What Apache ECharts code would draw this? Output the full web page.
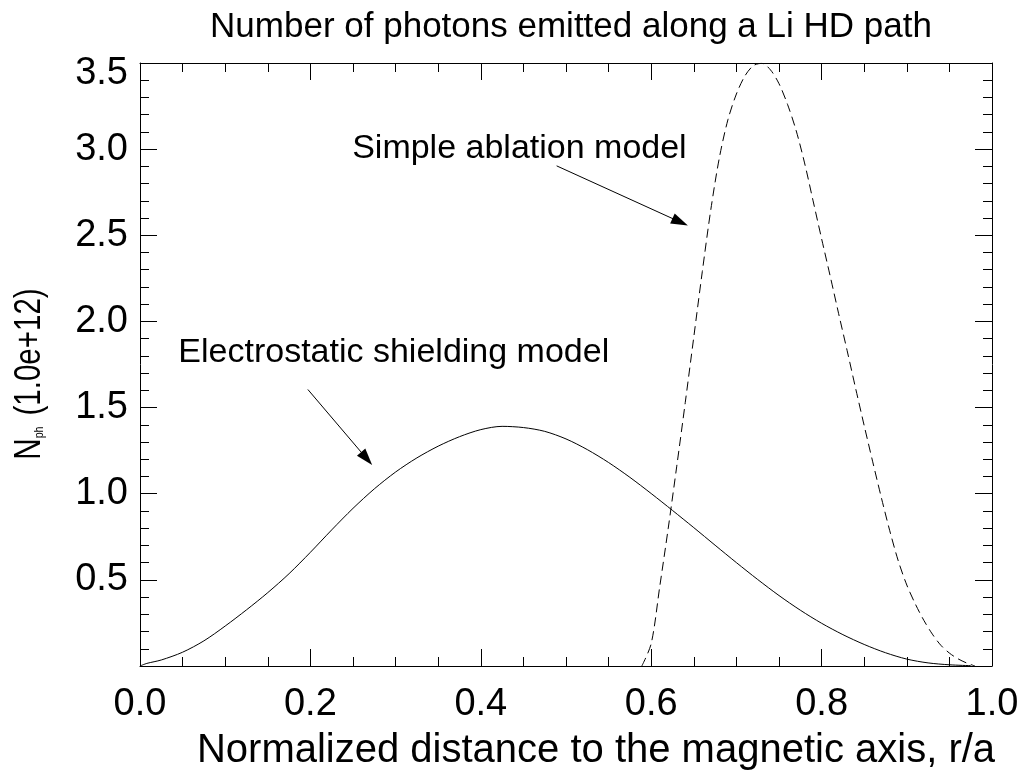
<!DOCTYPE html>
<html>
<head>
<meta charset="utf-8">
<script src="https://cdn.jsdelivr.net/npm/echarts@6/dist/echarts.min.js"></script>
<style>
  html, body { margin: 0; padding: 0; background: #fff; }
  #main { width: 1027px; height: 773px; }
</style>
</head>
<body>
<div id="main"></div>
<script>
// electrostatic shielding model (solid)
var elecX = [0.000, 0.008, 0.025, 0.050, 0.075, 0.100, 0.125, 0.150, 0.175, 0.200, 0.225, 0.250, 0.275, 0.300, 0.325, 0.350, 0.375, 0.400, 0.425, 0.450, 0.475, 0.500, 0.525, 0.550, 0.575, 0.600, 0.625, 0.650, 0.675, 0.700, 0.725, 0.750, 0.775, 0.800, 0.825, 0.850, 0.875, 0.900, 0.925, 0.950, 0.975];
var elecY = [0.000, 0.015, 0.035, 0.080, 0.146, 0.232, 0.326, 0.426, 0.536, 0.660, 0.790, 0.915, 1.028, 1.126, 1.208, 1.276, 1.331, 1.372, 1.391, 1.384, 1.362, 1.318, 1.256, 1.181, 1.095, 1.001, 0.903, 0.803, 0.701, 0.600, 0.502, 0.409, 0.324, 0.248, 0.182, 0.125, 0.077, 0.040, 0.018, 0.007, 0.002];
// simple ablation model (dashed)
var ablX = [0.589, 0.600, 0.610, 0.620, 0.630, 0.640, 0.650, 0.660, 0.670, 0.680, 0.690, 0.700, 0.710, 0.720, 0.730, 0.740, 0.750, 0.760, 0.770, 0.780, 0.790, 0.800, 0.810, 0.820, 0.830, 0.840, 0.850, 0.860, 0.870, 0.880, 0.890, 0.900, 0.910, 0.920, 0.930, 0.940, 0.950, 0.960, 0.970, 0.980];
var ablY = [0.000, 0.130, 0.460, 0.800, 1.160, 1.530, 1.910, 2.290, 2.650, 2.950, 3.170, 3.320, 3.425, 3.485, 3.498, 3.460, 3.380, 3.260, 3.110, 2.920, 2.700, 2.480, 2.265, 2.045, 1.830, 1.610, 1.395, 1.185, 0.980, 0.785, 0.610, 0.470, 0.360, 0.265, 0.185, 0.120, 0.075, 0.042, 0.018, 0.000];

// annotations in data units: [textX, textY, arrowFromX, arrowFromY, arrowToX, arrowToY]
var labels = ['Simple ablation model', 'Electrostatic shielding model'];
var notes = [
    [0.249, 3.005, 0.489, 2.903, 0.634, 2.577],
    [0.045, 1.82, 0.197, 1.605, 0.266, 1.204]
];

var font = "'Liberation Sans', Arial, Helvetica, sans-serif";

function pairs(xs, ys) {
    var out = [];
    for (var i = 0; i < xs.length; i++) out.push([xs[i], ys[i]]);
    return out;
}

var chart = echarts.init(document.getElementById('main'), null, {renderer: 'canvas'});

var tick = {show: true, inside: true, length: 17, lineStyle: {color: '#000', width: 1}};
var minor = function (n) {
    return {show: true, splitNumber: n, length: 9, lineStyle: {color: '#000', width: 1}};
};
var line = {show: true, onZero: false, lineStyle: {color: '#000', width: 1}};

var option = {
    animation: false,
    backgroundColor: '#fff',
    title: {
        text: 'Number of photons emitted along a Li HD path',
        left: 566,
        textAlign: 'center',
        top: 5,
        textStyle: {fontFamily: font, fontSize: 35, fontWeight: 'normal', color: '#000'}
    },
    grid: {left: 140, right: 35, top: 63, bottom: 107, containLabel: false, outerBoundsMode: 'none'},
    xAxis: [
        {
            type: 'value', min: 0, max: 1, interval: 0.2, position: 'bottom',
            axisLine: line, axisTick: tick, minorTick: minor(4),
            splitLine: {show: false},
            axisLabel: {
                margin: 20, fontFamily: font, fontSize: 38, color: '#000',
                formatter: function (v) { return v.toFixed(1); }
            },
            name: 'Normalized distance to the magnetic axis, r/a',
            nameLocation: 'middle', nameGap: 65,
            nameTextStyle: {fontFamily: font, fontSize: 40, color: '#000', padding: [0, 0, 0, 60]}
        },
        {
            type: 'value', min: 0, max: 1, interval: 0.2, position: 'top',
            axisLine: line, axisTick: tick, minorTick: minor(4),
            splitLine: {show: false}, axisLabel: {show: false}
        }
    ],
    yAxis: [
        {
            type: 'value', min: 0, max: 3.5, interval: 0.5, position: 'left',
            axisLine: line, axisTick: tick, minorTick: minor(5),
            splitLine: {show: false},
            axisLabel: {
                margin: 12, fontFamily: font, fontSize: 38, color: '#000',
                showMinLabel: false,
                formatter: function (v) {
                    return v === 3.5 ? '{t|' + v.toFixed(1) + '}' : v.toFixed(1);
                },
                rich: {t: {fontFamily: font, fontSize: 38, color: '#000', padding: [22, 0, 0, 0]}}
            }
        },
        {
            type: 'value', min: 0, max: 3.5, interval: 0.5, position: 'right',
            axisLine: line, axisTick: tick, minorTick: minor(5),
            splitLine: {show: false}, axisLabel: {show: false}
        }
    ],
    series: [
        {
            name: 'Electrostatic shielding model',
            type: 'line', xAxisIndex: 0, yAxisIndex: 0,
            data: pairs(elecX, elecY),
            smooth: 0.3, showSymbol: false, symbol: 'none',
            lineStyle: {color: '#000', width: 1, type: 'solid'},
            markLine: {
                silent: true, animation: false,
                symbol: ['none', 'triangle'], symbolSize: [11, 17],
                label: {show: false},
                lineStyle: {color: '#000', width: 1, type: 'solid'},
                data: notes.map(function (n) {
                    return [{coord: [n[2], n[3]]}, {coord: [n[4], n[5]]}];
                })
            }
        },
        {
            name: 'Simple ablation model',
            type: 'line', xAxisIndex: 0, yAxisIndex: 0,
            data: pairs(ablX, ablY),
            smooth: 0.3, showSymbol: false, symbol: 'none',
            lineStyle: {color: '#000', width: 1, type: [9, 5]}
        }
    ]
};

chart.setOption(option);

// annotation texts placed from their data positions, plus the narrow y-axis title
var graphics = notes.map(function (n, i) {
    var p = chart.convertToPixel({gridIndex: 0}, [n[0], n[1]]);
    return {
        type: 'text', x: p[0], y: p[1],
        style: {
            text: labels[i], fill: '#000',
            font: '34px ' + font,
            textAlign: 'left', textVerticalAlign: 'middle'
        }
    };
});
graphics.push({
    type: 'text', x: 30, y: 374,
    rotation: Math.PI / 2, scaleX: 0.82, scaleY: 1,
    style: {
        text: '{n|N}{s|ph}    {n|(1.0e+12)}',
        textAlign: 'center', textVerticalAlign: 'middle',
        rich: {
            n: {fontFamily: font, fontSize: 36, fill: '#000'},
            s: {fontFamily: font, fontSize: 13, fill: '#000', padding: [18, 0, 0, 0]}
        }
    }
});
chart.setOption({graphic: graphics});
</script>
</body>
</html>
